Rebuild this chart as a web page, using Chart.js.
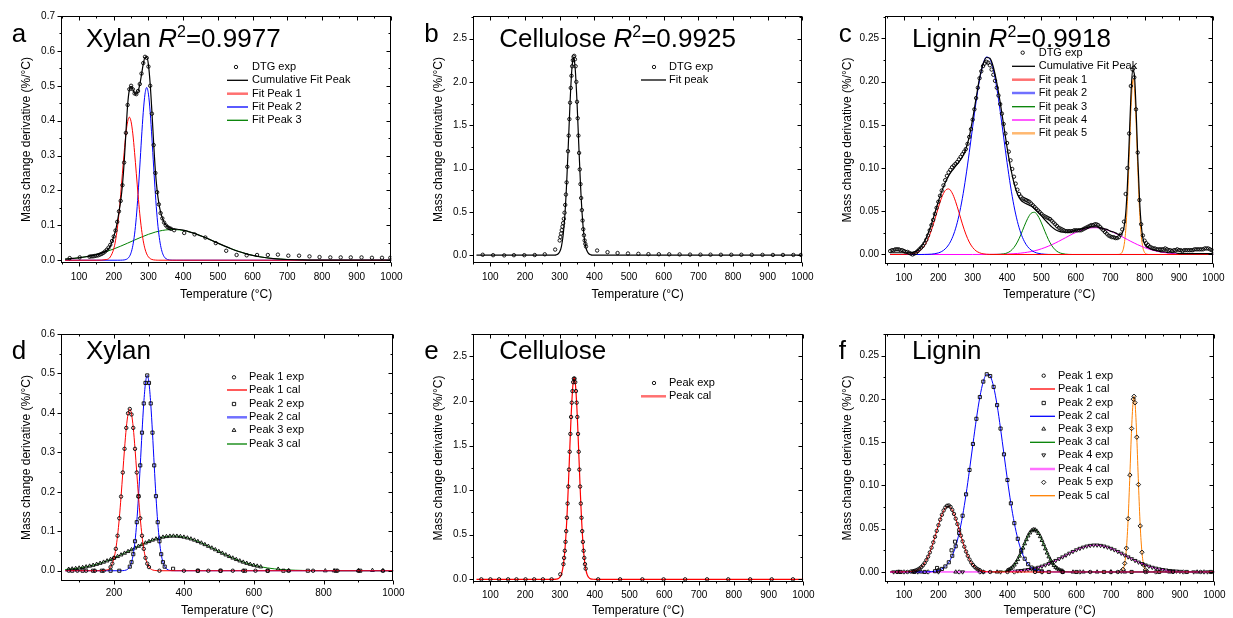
<!DOCTYPE html>
<html>
<head>
<meta charset="utf-8">
<title>DTG peak fitting</title>
<script src="https://cdn.jsdelivr.net/npm/chart.js@4.4.1/dist/chart.umd.min.js"></script>
<style>
  html, body { margin: 0; padding: 0; background: #fff; }
  #wrap { position: relative; width: 1233px; height: 618px; overflow: hidden; }
  #wrap canvas { position: absolute; }
</style>
</head>
<body>
<div id="wrap">
  <canvas id="pa" width="411" height="309" style="left:0;top:0"></canvas>
  <canvas id="pb" width="411" height="309" style="left:411px;top:0"></canvas>
  <canvas id="pc" width="411" height="309" style="left:822px;top:0"></canvas>
  <canvas id="pd" width="411" height="309" style="left:0;top:309px"></canvas>
  <canvas id="pe" width="411" height="309" style="left:411px;top:309px"></canvas>
  <canvas id="pf" width="411" height="309" style="left:822px;top:309px"></canvas>
</div>
<script>
const FONT = '"Liberation Sans", Arial, Helvetica, sans-serif';

// ---------- Xylan (panels a and d) ----------
const xylExpTemp = [73,102,130,135,140,145,150,155,160,165,170,175,180,185,190,195,200,205,210,215,220,225,230,235,240,245,250,255,260,265,270,275,280,285,290,295,300,305,310,315,320,325,330,335,340,345,350,355,360,365,374,403,433,464,494,524,554,583,613,644,673,703,734,764,793,824,854,883,914,944,973,997];
const xylExp = [0.006,0.008,0.010,0.011,0.011,0.012,0.013,0.014,0.016,0.018,0.021,0.025,0.030,0.036,0.044,0.055,0.068,0.085,0.11,0.14,0.17,0.215,0.28,0.365,0.445,0.49,0.50,0.49,0.478,0.476,0.485,0.505,0.535,0.565,0.583,0.58,0.555,0.50,0.42,0.33,0.25,0.195,0.16,0.135,0.12,0.108,0.100,0.095,0.092,0.090,0.086,0.078,0.074,0.065,0.049,0.027,0.015,0.014,0.015,0.015,0.016,0.013,0.013,0.011,0.009,0.008,0.008,0.008,0.008,0.007,0.007,0.007];

const xylCumTemp = [60,80,100,120,140,160,180,190,200,205,210,215,220,225,230,235,240,245,250,255,260,265,270,275,280,285,290,295,300,305,310,315,320,325,330,335,340,345,350,360,370,380,390,400,420,440,460,480,500,520,540,560,580,600,620,640,660,680,700,720,740,760,780,800,850,900,1000];
const xylCum = [0.003,0.005,0.007,0.010,0.014,0.019,0.028,0.040,0.068,0.085,0.108,0.138,0.170,0.215,0.280,0.365,0.445,0.488,0.498,0.490,0.479,0.476,0.484,0.503,0.532,0.562,0.581,0.582,0.560,0.505,0.425,0.335,0.255,0.200,0.163,0.138,0.121,0.109,0.101,0.093,0.090,0.089,0.088,0.086,0.0807,0.0742,0.0664,0.0578,0.0489,0.0403,0.0323,0.0251,0.0190,0.0140,0.0100,0.0070,0.0047,0.0031,0.0020,0.0013,0.0008,0.0004,0.0003,0.0001,0,0,0];

const xylP1Temp = [60,150,180,190,200,205,210,215,220,225,230,235,240,245,250,255,260,265,270,275,280,285,290,295,300,305,310,315,320,325,330,400,1000];
const xylP1 = [0,0,0.0021,0.0093,0.0326,0.0555,0.0887,0.133,0.188,0.249,0.309,0.362,0.397,0.41,0.397,0.362,0.309,0.249,0.188,0.133,0.0887,0.0555,0.0326,0.018,0.0093,0.0046,0.0021,0.0009,0.0004,0.0001,0,0,0];

const xylP2Temp = [60,210,220,225,230,235,240,245,250,255,260,265,270,275,280,285,290,295,300,305,310,315,320,325,330,335,340,345,350,360,370,380,1000];
const xylP2 = [0,0,0.0001,0.0003,0.0007,0.0019,0.0047,0.0104,0.0217,0.0419,0.0747,0.123,0.189,0.267,0.350,0.424,0.476,0.495,0.476,0.424,0.350,0.267,0.189,0.123,0.0747,0.0419,0.0217,0.0104,0.0047,0.0007,0.0001,0,0];

const xylP3Temp = [60,80,100,120,140,160,180,200,220,240,260,280,300,320,340,360,370,380,400,420,440,460,480,500,520,540,560,580,600,620,640,660,680,700,720,740,760,780,800,850,1000];
const xylP3 = [0.0031,0.0047,0.0070,0.0100,0.0140,0.0190,0.0251,0.0323,0.0403,0.0489,0.0578,0.0664,0.0742,0.0807,0.0853,0.0877,0.088,0.0877,0.0853,0.0807,0.0742,0.0664,0.0578,0.0489,0.0403,0.0323,0.0251,0.0190,0.0140,0.0100,0.0070,0.0047,0.0031,0.0020,0.0013,0.0008,0.0004,0.0003,0.0001,0,0];

const xylP1ExpTemp = [70,95,120,145,170,190,195,200,205,210,215,220,225,230,235,240,245,250,255,260,265,270,275,280,285,290,295,300,330,400,440,470,505,540,570,605,640,700,770,840,900,970];
const xylP1Exp = [0,0,0,0,0,0.0093,0.018,0.0326,0.0555,0.0887,0.133,0.188,0.249,0.309,0.362,0.399,0.41,0.396,0.362,0.309,0.249,0.188,0.133,0.0887,0.0555,0.0326,0.018,0.0093,0,0,0,0,0,0,0,0,0,0,0,0,0,0];

const xylP2ExpTemp = [80,110,140,165,190,215,245,250,255,260,265,270,275,280,285,290,295,300,305,310,315,320,325,330,335,340,345,369,440,505,575,640,685,755,835,905];
const xylP2Exp = [0,0,0,0,0,0,0.0104,0.0217,0.0419,0.0747,0.123,0.189,0.267,0.350,0.424,0.476,0.495,0.476,0.424,0.350,0.267,0.189,0.123,0.0747,0.0419,0.0217,0.0104,0.005,0,0,0,0,0,0,0,0];

const xylP3ExpTemp = [70,80,90,100,110,120,130,140,150,160,170,180,190,200,210,220,230,240,250,260,270,280,290,300,310,320,330,340,350,360,370,380,390,400,410,420,430,440,450,460,470,480,490,500,510,520,530,540,550,560,570,580,590,600,610,620,670,700,805,830,900,940,970];
const xylP3Exp = [0.0039,0.0047,0.0058,0.0070,0.0084,0.0100,0.0119,0.0140,0.0164,0.0190,0.0219,0.0251,0.0286,0.0323,0.0362,0.0403,0.0446,0.0489,0.0534,0.0578,0.0622,0.0664,0.0705,0.0742,0.0777,0.0807,0.0832,0.0853,0.0868,0.0877,0.0880,0.0877,0.0868,0.0853,0.0832,0.0807,0.0777,0.0742,0.0705,0.0664,0.0622,0.0578,0.0534,0.0489,0.0446,0.0403,0.0362,0.0323,0.0286,0.0251,0.0219,0.0190,0.0164,0.0140,0.0119,0.0100,0.004,0,0,0,0,0.001,0];

// ---------- Cellulose (panels b and e) ----------
const celExpTemp = [78,108,140,168,198,228,257,287,300,302,304,306,308,310,312,314,316,318,320,322,324,326,328,330,332,334,336,338,340,342,344,346,348,350,352,354,356,358,360,362,364,366,368,370,372,374,376,408,438,467,497,527,556,586,616,646,676,706,735,765,795,824,854,885,915,944,974,996];
const celExp = [0.005,0,-0.002,0,0,0.002,0.01,0.065,0.17,0.21,0.25,0.29,0.33,0.37,0.42,0.49,0.58,0.70,0.84,1.02,1.20,1.38,1.57,1.76,1.93,2.07,2.18,2.25,2.29,2.30,2.26,2.18,2.00,1.77,1.58,1.38,1.18,0.99,0.82,0.66,0.52,0.40,0.30,0.23,0.17,0.13,0.10,0.054,0.035,0.025,0.02,0.016,0.012,0.011,0.01,0.009,0.007,0.006,0.006,0.005,0.005,0.005,0.004,0.004,0.003,0.003,0.003,0.003];

const celFitTemp = [60,270,280,285,290,295,300,305,310,315,320,325,330,335,338,340,342,345,350,355,360,365,370,375,380,385,390,395,400,410,1000];
const celFit = [0,0,0.0002,0.001,0.0039,0.013,0.0385,0.100,0.230,0.463,0.822,1.284,1.767,2.139,2.257,2.28,2.257,2.139,1.767,1.284,0.822,0.463,0.230,0.100,0.0385,0.013,0.0039,0.001,0.0002,0,0];

const celPeakExpTemp = [74,100,125,151,175,201,226,251,276,301,310,312,314,316,318,320,322,324,326,328,330,332,334,336,338,340,342,344,346,348,350,352,354,356,358,360,362,364,366,368,370,372,374,410,473,537,598,660,723,784,847,909,970];
const celPeakExp = [0,0,0,0,0,0,0,0,0,0.056,0.17,0.24,0.32,0.42,0.54,0.69,0.85,1.04,1.23,1.43,1.63,1.82,1.98,2.11,2.21,2.25,2.25,2.21,2.11,1.98,1.82,1.63,1.43,1.23,1.04,0.85,0.69,0.54,0.42,0.32,0.24,0.17,0.12,0,0,0,0,0,0,0,0,0,0];

const celCalTemp = [60,260,280,290,296,300,302,304,306,308,310,312,314,316,318,320,322,324,326,328,330,332,334,336,338,340,341,342,344,346,348,350,352,354,356,358,360,362,364,366,368,370,372,374,376,378,380,382,386,392,396,402,420,1000];
const celCal = [0,0,0.0001,0.002,0.0095,0.024,0.037,0.056,0.082,0.119,0.168,0.233,0.315,0.417,0.541,0.686,0.852,1.035,1.230,1.431,1.630,1.816,1.980,2.112,2.206,2.254,2.26,2.254,2.206,2.112,1.980,1.816,1.630,1.431,1.230,1.035,0.852,0.686,0.541,0.417,0.315,0.233,0.168,0.119,0.082,0.056,0.037,0.024,0.0095,0.002,0.0006,0.0001,0,0];

// ---------- Lignin (panels c and f) ----------
const ligExpTemp = [60,65,70,75,80,85,90,95,
  100,105,110,115,120,125,130,135,140,145,150,155,160,165,170,175,180,185,190,195,
  200,205,210,215,220,225,230,235,240,245,250,255,260,265,270,275,280,285,290,295,
  300,305,310,315,320,325,330,335,340,345,350,355,360,365,370,375,380,385,390,395,
  400,405,410,415,420,425,430,435,440,445,450,455,460,465,470,475,480,485,490,495,
  500,505,510,515,520,525,530,535,540,545,550,555,560,565,570,575,580,585,590,595,
  600,605,610,615,620,625,630,635,640,645,650,655,660,665,670,675,680,685,690,695,
  700,705,710,715,720,725,730,735,740,745,750,755,760,765,768,770,775,780,785,790,795,
  800,805,810,815,820,825,830,835,840,845,850,855,860,865,870,875,880,885,890,895,
  900,905,910,915,920,925,930,935,940,945,950,955,960,965,970,975,980,985,990,995,1000];
const ligExp = [0.004,0.005,0.005,0.006,0.006,0.006,0.005,0.005,
  0.004,0.003,0.003,0.002,0.001,0.000,0.001,0.002,0.004,0.006,0.008,0.010,0.013,0.017,0.022,0.028,0.034,0.040,0.047,0.054,
  0.061,0.068,0.074,0.080,0.086,0.091,0.095,0.098,0.101,0.103,0.105,0.107,0.110,0.113,0.116,0.119,0.122,0.128,0.136,0.145,
  0.156,0.168,0.181,0.193,0.204,0.212,0.218,0.221,0.223,0.222,0.219,0.214,0.208,0.201,0.193,0.184,0.174,0.163,0.151,0.140,
  0.129,0.119,0.109,0.099,0.090,0.082,0.075,0.070,0.067,0.065,0.064,0.063,0.062,0.061,0.059,0.057,0.055,0.053,0.051,0.049,
  0.047,0.045,0.044,0.043,0.042,0.041,0.039,0.037,0.035,0.033,0.031,0.030,0.029,0.028,0.027,0.027,0.027,0.027,0.027,0.028,
  0.028,0.028,0.028,0.028,0.029,0.030,0.031,0.032,0.033,0.034,0.034,0.035,0.035,0.034,0.032,0.030,0.028,0.026,0.024,0.022,
  0.021,0.020,0.020,0.019,0.019,0.020,0.023,0.029,0.038,0.070,0.100,0.140,0.195,0.214,0.216,0.205,0.168,0.118,0.063,0.035,0.022,
  0.016,0.013,0.011,0.009,0.008,0.007,0.007,0.006,0.006,0.006,0.006,0.006,0.007,0.006,0.005,0.005,0.004,0.005,0.005,0.006,
  0.005,0.005,0.004,0.005,0.005,0.005,0.005,0.005,0.005,0.006,0.006,0.006,0.006,0.006,0.006,0.007,0.007,0.007,0.006,0.005,0.004];

const ligCumTemp = [60,70,80,90,100,110,120,130,140,150,160,170,180,190,200,210,220,230,240,250,
  260,270,280,290,300,310,320,330,340,350,360,370,380,390,400,410,420,430,440,450,
  460,470,480,490,500,510,520,530,540,550,560,570,580,590,600,610,620,630,640,650,
  660,670,680,690,700,710,720,725,730,735,740,745,750,755,760,765,770,775,780,785,790,795,800,805,810,
  820,830,840,850,860,870,880,890,900,910,920,930,940,950,960,970,980,990,1000];
const ligCum = [0.002,0.002,0.002,0.002,0.002,0.002,0.002,0.003,0.005,0.009,0.015,0.024,0.035,0.048,0.061,0.073,0.083,0.091,0.097,0.102,
  0.107,0.113,0.122,0.136,0.157,0.181,0.204,0.220,0.228,0.227,0.217,0.199,0.176,0.150,0.124,0.101,0.083,0.070,0.063,0.060,
  0.058,0.056,0.053,0.049,0.045,0.040,0.036,0.032,0.029,0.027,0.026,0.026,0.026,0.027,0.028,0.029,0.030,0.031,0.032,0.032,
  0.032,0.031,0.030,0.029,0.027,0.026,0.024,0.023,0.023,0.025,0.031,0.047,0.080,0.130,0.182,0.213,0.209,0.170,0.114,0.066,0.035,0.019,0.012,0.009,0.008,
  0.006,0.005,0.004,0.003,0.003,0.002,0.002,0.002,0.001,0.001,0.001,0.001,0.001,0.001,0.001,0.001,0.001,0.001,0.001];

const ligP1Temp = [60,90,100,110,120,130,140,150,160,170,180,190,200,210,220,230,240,250,260,270,280,290,300,310,320,330,340,350,400,1000];
const ligP1 = [0,0,0.0001,0.0002,0.0005,0.0012,0.0027,0.0055,0.0103,0.0177,0.0281,0.0407,0.0541,0.0661,0.0739,0.0759,0.0714,0.0616,0.0488,0.0354,0.0236,0.0144,0.0081,0.0041,0.0020,0.0008,0.0003,0.0001,0,0];

const ligP2Temp = [60,150,160,170,180,190,200,210,220,230,240,250,260,270,280,290,300,310,320,330,340,350,360,370,380,390,400,410,420,430,440,450,460,470,480,490,500,510,520,530,1000];
const ligP2 = [0,0,0.0001,0.0002,0.0004,0.0009,0.0018,0.0035,0.0064,0.0112,0.0187,0.0297,0.0450,0.0650,0.0897,0.1179,0.1479,0.1770,0.2021,0.2200,0.2285,0.2264,0.2139,0.1928,0.1657,0.1359,0.1063,0.0793,0.0564,0.0383,0.0248,0.0153,0.0090,0.0051,0.0027,0.0014,0.0007,0.0003,0.0001,0,0];

const ligP3Temp = [350,360,370,380,390,400,410,420,430,440,450,460,470,480,490,500,510,520,530,540,550,560,570,580,590,1000];
const ligP3 = [0,0,0.0001,0.0003,0.0007,0.0018,0.0040,0.0081,0.0144,0.0229,0.0327,0.0417,0.0477,0.0488,0.0446,0.0365,0.0268,0.0175,0.0103,0.0054,0.0025,0.0011,0.0004,0.0001,0,0];

const ligP4Temp = [60,300,380,400,420,430,440,450,460,470,480,490,500,510,520,530,540,550,560,570,580,590,600,610,620,630,640,650,660,670,680,690,700,710,720,730,740,750,760,770,780,790,800,810,820,830,840,850,860,870,880,890,900,920,940,960,1000];
const ligP4 = [0,0,0.0002,0.0005,0.0009,0.0012,0.0016,0.0021,0.0027,0.0034,0.0043,0.0053,0.0066,0.0080,0.0096,0.0113,0.0132,0.0152,0.0173,0.0194,0.0216,0.0236,0.0255,0.0272,0.0286,0.0298,0.0306,0.0310,0.0310,0.0306,0.0298,0.0286,0.0272,0.0255,0.0236,0.0216,0.0194,0.0173,0.0152,0.0132,0.0113,0.0096,0.0080,0.0066,0.0053,0.0043,0.0034,0.0027,0.0021,0.0016,0.0012,0.0009,0.0006,0.0003,0.0002,0.0001,0];

const ligP5Temp = [720,725,730,735,740,745,750,755,760,765,767,770,775,780,785,790,795,800,805,810];
const ligP5 = [0,0.0001,0.0007,0.0030,0.0100,0.0275,0.0615,0.1120,0.1658,0.1997,0.203,0.1956,0.1558,0.1010,0.0532,0.0228,0.0080,0.0023,0.0005,0.0001];

const ligP1ExpTemp = [80,110,120,125,130,135,140,145,150,155,160,165,170,175,180,185,190,195,200,205,210,215,220,225,230,235,240,245,250,255,260,265,270,275,280,285,290,295,300,305,310,315,320,350,400,480,560,640,720,800,880,960];
const ligP1Exp = [0,0,0.0005,0.0008,0.0012,0.0018,0.0027,0.0039,0.0055,0.0076,0.0103,0.0137,0.0177,0.0226,0.0281,0.0342,0.0407,0.0475,0.0541,0.0605,0.0661,0.0710,0.0745,0.0765,0.0768,0.0752,0.0718,0.0671,0.0616,0.0554,0.0488,0.0420,0.0354,0.0292,0.0236,0.0186,0.0144,0.0109,0.0081,0.0059,0.0041,0.0029,0.0020,0,0,0,0,0,0,0,0,0];

const ligP2ExpTemp = [90,130,160,190,196,200,210,220,230,238,240,248,250,260,270,280,290,300,310,320,330,340,350,360,370,380,390,400,410,420,430,440,450,460,470,480,490,500,520,560,600,680,760,840,920,990];
const ligP2Exp = [0,0,0,0.0009,0.0046,0.0018,0.0035,0.0064,0.0112,0.025,0.0187,0.035,0.0297,0.0450,0.0650,0.0897,0.1179,0.1479,0.1770,0.2021,0.2200,0.2285,0.2264,0.2139,0.1928,0.1657,0.1359,0.1063,0.0793,0.0564,0.0383,0.0248,0.0153,0.0090,0.0051,0.0027,0.0014,0.0007,0,0,0,0,0,0,0,0];

const ligP3ExpTemp = [85,150,250,330,370,400,405,410,415,420,425,430,435,440,445,450,455,460,465,470,475,480,485,490,495,500,505,510,515,520,525,530,535,540,545,550,555,560,590,620,660,700,740,870,950];
const ligP3Exp = [0,0,0,0,0,0.0018,0.0028,0.0040,0.0058,0.0081,0.0109,0.0144,0.0184,0.0229,0.0277,0.0327,0.0374,0.0417,0.0452,0.0477,0.0489,0.0488,0.0473,0.0446,0.0409,0.0365,0.0317,0.0268,0.0220,0.0175,0.0136,0.0103,0.0076,0.0054,0.0038,0.0025,0.0017,0.0011,0,0,0,0,0,0,0];

const ligP4ExpTemp = [70,140,200,270,330,380,430,440,450,460,470,480,490,500,510,520,530,540,550,560,570,580,590,600,610,620,630,640,650,660,670,680,690,700,710,720,730,740,750,760,770,780,790,800,810,820,830,840,850,860,870,880,890,900,940,980];
const ligP4Exp = [0,0,0,0,0,0,0.0012,0.0016,0.0021,0.0027,0.0034,0.0043,0.0053,0.0066,0.0080,0.0096,0.0113,0.0132,0.0152,0.0173,0.0194,0.0216,0.0236,0.0255,0.0272,0.0286,0.0298,0.0306,0.0310,0.0310,0.0306,0.0298,0.0286,0.0272,0.0255,0.0236,0.0216,0.0194,0.0173,0.0152,0.0132,0.0113,0.0096,0.0080,0.0066,0.0053,0.0043,0.0034,0.0027,0.0021,0.0016,0.0012,0.0009,0.0006,0,0];

const ligP5ExpTemp = [100,170,260,320,420,500,610,700,730,735,740,745,750,755,760,765,767,770,775,780,785,790,795,800,805,830,910,970];
const ligP5Exp = [0,0,0,0,0,0,0,0,0.0007,0.0030,0.0100,0.0275,0.0615,0.1120,0.1658,0.1997,0.203,0.1956,0.1558,0.1010,0.0532,0.0228,0.0080,0.0023,0.0005,0,0,0];

// ---------- axes ticks ----------
const tempTicks = [100,200,300,400,500,600,700,800,900,1000];
const tempTicksD = [200,400,600,800,1000];
const xylTicks = [0,0.1,0.2,0.3,0.4,0.5,0.6,0.7];
const xylTicksD = [0,0.1,0.2,0.3,0.4,0.5,0.6];
const celTicks = [0,0.5,1.0,1.5,2.0,2.5];
const ligTicks = [0,0.05,0.10,0.15,0.20,0.25];

// ---------- helpers ----------
const xy = (t, v) => t.map((x, i) => ({ x: x, y: v[i] }));

function pointSet(label, t, v, style, rot) {
  style = style || 'circle';
  return {
    label, data: xy(t, v), showLine: false,
    pointStyle: style, pointRotation: rot || 0,
    pointRadius: style === 'circle' ? 1.7 : 2.2,
    pointBorderWidth: 0.9, pointBorderColor: '#000', pointBackgroundColor: 'rgba(0,0,0,0)',
    borderColor: '#000', backgroundColor: 'rgba(0,0,0,0)'
  };
}
function lineSet(label, t, v, color, w) {
  return {
    label, data: xy(t, v), showLine: true, pointRadius: 0, pointHitRadius: 0,
    borderColor: color, backgroundColor: color, borderWidth: w || 1,
    cubicInterpolationMode: 'monotone', fill: false
  };
}

function marker(ctx, style, rot, x, y, r) {
  ctx.save();
  ctx.strokeStyle = '#000'; ctx.lineWidth = 0.9;
  ctx.beginPath();
  if (style === 'rect') {
    const s = r * 0.75; ctx.rect(x - s, y - s, 2 * s, 2 * s);
  } else if (style === 'rectRot') {
    ctx.moveTo(x, y - r); ctx.lineTo(x + r, y); ctx.lineTo(x, y + r); ctx.lineTo(x - r, y); ctx.closePath();
  } else if (style === 'triangle') {
    const s = rot === 180 ? -1 : 1;
    ctx.moveTo(x, y - s * r); ctx.lineTo(x + r * 0.87, y + s * r * 0.5); ctx.lineTo(x - r * 0.87, y + s * r * 0.5); ctx.closePath();
  } else {
    ctx.arc(x, y, r, 0, Math.PI * 2);
  }
  ctx.stroke();
  ctx.restore();
}

// per panel layout (pixel positions in each 411x309 canvas); "soft" = legend rows drawn as pale thick lines
const SPEC = {
  pa: { area: [61, 16, 397, 263], xmin: 48, ymin: -0.008, ymax: 0.7, yt: xylTicks, yMajor: 0.1, yMinor: 0.05, dec: 1,
        xt: tempTicks, xMinorFrom: 50, xMinor: 50, xpad: 8.5, xtitle: 6.8, ytitle: 19.8,
        letter: 'a', letterAt: [11.7, 41.7], title: [['Xylan ', ''], ['R', 'i'], ['2', 's'], ['=0.9977', '']], titleAt: [86, 46.7],
        legend: { x0: 227, x1: 248, mx: 236, tx: 252, rows: [67, 80.3, 93.7, 107, 120.3], items: [0, 1, 2, 3, 4], soft: [2] } },
  pb: { area: [62, 16, 399, 263], xmin: 50, ymin: -0.09, ymax: 2.76, yt: celTicks, yMajor: 0.5, yMinor: 0.25, dec: 1,
        xt: tempTicks, xMinorFrom: 50, xMinor: 50, xpad: 8.5, xtitle: 6.8, ytitle: 20.5,
        letter: 'b', letterAt: [13.3, 41.7], title: [['Cellulose ', ''], ['R', 'i'], ['2', 's'], ['=0.9925', '']], titleAt: [88.3, 46.7],
        legend: { x0: 230, x1: 255, mx: 243, tx: 258, rows: [67, 80], items: [0, 1], soft: [] } },
  pc: { area: [63, 16, 400, 264], xmin: 45, ymin: -0.011, ymax: 0.276, yt: ligTicks, yMajor: 0.05, yMinor: 0.025, dec: 2,
        xt: tempTicks, xMinorFrom: 50, xMinor: 50, xpad: 8.5, xtitle: 6.8, ytitle: 18.8,
        letter: 'c', letterAt: [16.7, 41.7], title: [['Lignin ', ''], ['R', 'i'], ['2', 's'], ['=0.9918', '']], titleAt: [90, 46.7],
        legend: { x0: 190, x1: 213, mx: 200.7, tx: 216.7, rows: [52.7, 66.3, 79.7, 93, 106.7, 120, 133.3], items: [0, 1, 2, 3, 4, 5, 6], soft: [2, 3, 6] } },
  pd: { area: [61, 25, 396, 272], xmin: 48, ymin: -0.026, ymax: 0.6, yt: xylTicksD, yMajor: 0.1, yMinor: 0.05, dec: 1,
        xt: tempTicksD, xMinorFrom: 100, xMinor: 100, xpad: 6.5, xtitle: 0.1, ytitle: 19.5,
        letter: 'd', letterAt: [11.7, 50], title: [['Xylan', '']], titleAt: [86, 50],
        legend: { x0: 227, x1: 247, mx: 234, tx: 249, rows: [68.3, 81, 95, 108.3, 121.3, 135], items: [0, 1, 2, 3, 4, 5], soft: [3] } },
  pe: { area: [62, 25, 398, 273], xmin: 50, ymin: -0.03, ymax: 2.75, yt: celTicks, yMajor: 0.5, yMinor: 0.25, dec: 1,
        xt: tempTicks, xMinorFrom: 50, xMinor: 50, xpad: 7.5, xtitle: 0.1, ytitle: 20.5,
        letter: 'e', letterAt: [13.3, 50], title: [['Cellulose', '']], titleAt: [88.3, 50],
        legend: { x0: 230, x1: 255, mx: 243, tx: 258, rows: [74, 87.3], items: [0, 1], soft: [1] } },
  pf: { area: [63, 25, 400, 273], xmin: 45, ymin: -0.0116, ymax: 0.275, yt: ligTicks, yMajor: 0.05, yMinor: 0.025, dec: 2,
        xt: tempTicks, xMinorFrom: 50, xMinor: 50, xpad: 7.5, xtitle: 0.1, ytitle: 18.8,
        letter: 'f', letterAt: [16.7, 50], title: [['Lignin', '']], titleAt: [90, 50],
        legend: { x0: 208, x1: 233, mx: 221.7, tx: 236, rows: [66.7, 80, 94, 107.3, 120, 133.3, 146, 160, 173.3, 186.7], items: [0, 1, 2, 3, 4, 5, 6, 7, 8, 9], soft: [7] } }
};

const SOFT = { '#ff0000': '#ff7070', '#0000ff': '#7070ff', '#ff8000': '#ffb870', '#ff00ff': '#ff70ff' };

// frame, minor/inner ticks, panel letters, titles and legends
const decor = {
  id: 'decor',
  afterDraw(chart) {
    const d = SPEC[chart.canvas.id];
    const ctx = chart.ctx, a = chart.chartArea;
    const sx = chart.scales.x, sy = chart.scales.y;
    ctx.save();
    ctx.strokeStyle = '#000'; ctx.lineWidth = 1;
    const l = Math.round(a.left) + 0.5, r = Math.round(a.right) - 0.5;
    const t = Math.round(a.top) + 0.5, b = Math.round(a.bottom) - 0.5;
    ctx.strokeRect(l, t, r - l, b - t);
    ctx.beginPath();
    const nx = Math.round((1000 - d.xMinorFrom) / d.xMinor);
    for (let i = 0; i <= nx; i++) {
      const v = d.xMinorFrom + i * d.xMinor;
      const len = d.xt.indexOf(v) >= 0 ? 4 : 2;
      const p = Math.round(sx.getPixelForValue(v)) + 0.5;
      ctx.moveTo(p, b); ctx.lineTo(p, b + len);
      ctx.moveTo(p, t); ctx.lineTo(p, t + len);
    }
    const ny = Math.floor(d.ymax / d.yMinor + 1e-6);
    for (let i = 0; i <= ny; i++) {
      const v = i * d.yMinor;
      const q = v / d.yMajor;
      const len = Math.abs(q - Math.round(q)) < 1e-6 ? 4 : 2;
      const p = Math.round(sy.getPixelForValue(v)) + 0.5;
      ctx.moveTo(l, p); ctx.lineTo(l - len, p);
      ctx.moveTo(r, p); ctx.lineTo(r - len, p);
    }
    ctx.stroke();

    ctx.fillStyle = '#000';
    ctx.textAlign = 'left';
    ctx.textBaseline = 'alphabetic';
    ctx.font = '26px ' + FONT;
    ctx.fillText(d.letter, d.letterAt[0], d.letterAt[1]);
    let x = d.titleAt[0];
    for (const part of d.title) {
      const txt = part[0], kind = part[1];
      ctx.font = (kind === 'i' ? 'italic 26px ' : kind === 's' ? '16px ' : '26px ') + FONT;
      ctx.fillText(txt, x, kind === 's' ? d.titleAt[1] - 10 : d.titleAt[1]);
      x += ctx.measureText(txt).width;
    }

    const lg = d.legend;
    ctx.font = '11px ' + FONT;
    ctx.textBaseline = 'middle';
    lg.items.forEach((idx, k) => {
      const ds = chart.data.datasets[idx];
      const ry = lg.rows[k];
      if (ds.showLine) {
        const soft = lg.soft.indexOf(idx) >= 0;
        ctx.save();
        ctx.strokeStyle = soft ? (SOFT[ds.borderColor] || ds.borderColor) : ds.borderColor;
        ctx.lineWidth = soft ? 2.5 : 1.3;
        ctx.beginPath(); ctx.moveTo(lg.x0, ry); ctx.lineTo(lg.x1, ry); ctx.stroke();
        ctx.restore();
      } else {
        marker(ctx, ds.pointStyle, ds.pointRotation, lg.mx, ry, ds.pointRadius);
      }
      ctx.fillStyle = '#000';
      ctx.fillText(ds.label, lg.tx, ry);
    });
    ctx.restore();
  }
};

function makePanel(id, sets) {
  const ax = SPEC[id];
  const [L, T, R, B] = ax.area;
  return new Chart(document.getElementById(id), {
    type: 'scatter',
    data: { datasets: sets },
    options: {
      responsive: false, animation: false, devicePixelRatio: 1, events: [],
      layout: { padding: { left: 0, top: T, right: 411 - R, bottom: 0 } },
      plugins: { legend: { display: false }, tooltip: { enabled: false } },
      scales: {
        x: {
          type: 'linear', position: 'bottom', min: ax.xmin, max: 1000,
          afterBuildTicks: s => { s.ticks = ax.xt.map(v => ({ value: v })); },
          afterFit: s => { s.height = 309 - B; },
          grid: { display: false, drawTicks: false }, border: { display: false },
          ticks: { autoSkip: false, maxRotation: 0, padding: ax.xpad, color: '#000',
                   font: { family: FONT, size: 10 }, callback: v => String(v) },
          title: { display: true, text: 'Temperature (°C)', color: '#000',
                   font: { family: FONT, size: 12 }, padding: { top: 0, bottom: ax.xtitle } }
        },
        y: {
          type: 'linear', position: 'left', min: ax.ymin, max: ax.ymax,
          afterBuildTicks: s => { s.ticks = ax.yt.map(v => ({ value: v })); },
          afterFit: s => { s.width = L; },
          grid: { display: false, drawTicks: false }, border: { display: false },
          ticks: { autoSkip: false, padding: 6, color: '#000',
                   font: { family: FONT, size: 10 }, callback: v => v.toFixed(ax.dec) },
          title: { display: true, text: 'Mass change derivative (%/°C)', color: '#000',
                   font: { family: FONT, size: 12 }, padding: { top: ax.ytitle, bottom: 0 } }
        }
      }
    },
    plugins: [decor]
  });
}

const RED = '#ff0000', BLUE = '#0000ff', GREEN = '#008000', MAGENTA = '#ff00ff', ORANGE = '#ff8000', BLACK = '#000000';

makePanel('pa', [
  pointSet('DTG exp', xylExpTemp, xylExp),
  lineSet('Cumulative Fit Peak', xylCumTemp, xylCum, BLACK, 1.2),
  lineSet('Fit Peak 1', xylP1Temp, xylP1, RED),
  lineSet('Fit Peak 2', xylP2Temp, xylP2, BLUE),
  lineSet('Fit Peak 3', xylP3Temp, xylP3, GREEN)
]);

makePanel('pb', [
  pointSet('DTG exp', celExpTemp, celExp),
  lineSet('Fit peak', celFitTemp, celFit, BLACK, 1.2)
]);

makePanel('pc', [
  pointSet('DTG exp', ligExpTemp, ligExp),
  lineSet('Cumulative Fit Peak', ligCumTemp, ligCum, BLACK, 1.2),
  lineSet('Fit peak 1', ligP1Temp, ligP1, RED),
  lineSet('Fit peak 2', ligP2Temp, ligP2, BLUE),
  lineSet('Fit peak 3', ligP3Temp, ligP3, GREEN),
  lineSet('Fit peak 4', ligP4Temp, ligP4, MAGENTA),
  lineSet('Fit peak 5', ligP5Temp, ligP5, ORANGE)
]);

makePanel('pd', [
  pointSet('Peak 1 exp', xylP1ExpTemp, xylP1Exp, 'circle'),
  lineSet('Peak 1 cal', xylP1Temp, xylP1, RED),
  pointSet('Peak 2 exp', xylP2ExpTemp, xylP2Exp, 'rect'),
  lineSet('Peak 2 cal', xylP2Temp, xylP2, BLUE),
  pointSet('Peak 3 exp', xylP3ExpTemp, xylP3Exp, 'triangle'),
  lineSet('Peak 3 cal', xylP3Temp, xylP3, GREEN)
]);

makePanel('pe', [
  pointSet('Peak exp', celPeakExpTemp, celPeakExp),
  lineSet('Peak cal', celCalTemp, celCal, RED, 1.2)
]);

makePanel('pf', [
  pointSet('Peak 1 exp', ligP1ExpTemp, ligP1Exp, 'circle'),
  lineSet('Peak 1 cal', ligP1Temp, ligP1, RED),
  pointSet('Peak 2 exp', ligP2ExpTemp, ligP2Exp, 'rect'),
  lineSet('Peak 2 cal', ligP2Temp, ligP2, BLUE),
  pointSet('Peak 3 exp', ligP3ExpTemp, ligP3Exp, 'triangle'),
  lineSet('Peak 3 cal', ligP3Temp, ligP3, GREEN),
  pointSet('Peak 4 exp', ligP4ExpTemp, ligP4Exp, 'triangle', 180),
  lineSet('Peak 4 cal', ligP4Temp, ligP4, MAGENTA),
  pointSet('Peak 5 exp', ligP5ExpTemp, ligP5Exp, 'rectRot'),
  lineSet('Peak 5 cal', ligP5Temp, ligP5, ORANGE)
]);
</script>
</body>
</html>
